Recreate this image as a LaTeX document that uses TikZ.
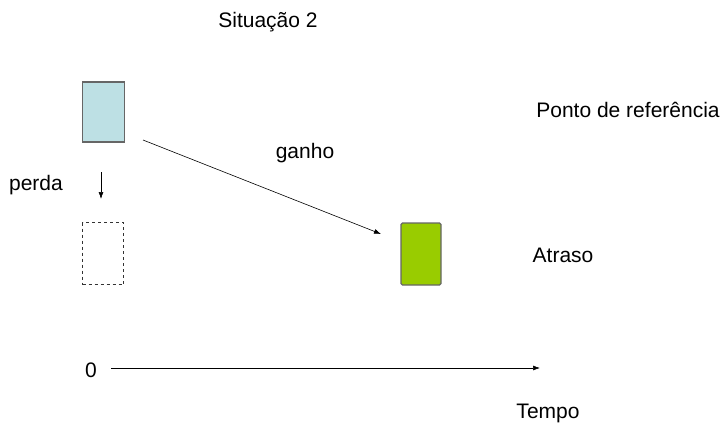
\documentclass[tikz,border=0pt]{standalone}
\usepackage{fontspec}
\usetikzlibrary{arrows.meta}
\setmainfont{Liberation Sans}
\begin{document}
\begin{tikzpicture}[x=1pt,y=-1pt,
  lbl/.style={inner sep=0pt,font=\fontsize{21}{24}\selectfont},
  card/.style={draw=black!60,line width=1.2pt,minimum width=42pt,minimum height=60pt,inner sep=0pt},
  conn/.style={-{Latex[length=7pt,width=5pt]},line width=0.6pt,black}]
\useasboundingbox (0,0) rectangle (727,431);
\node[lbl] (title) at (268,22) {Situação 2};
\node[card,fill={rgb,255:red,189;green,224;blue,228}] (blue) at (103.5,112) {};
\node[card,draw=black!80,line width=0.6pt,dashed,minimum width=41pt,minimum height=62pt] (ghost) at (103,253.5) {};
\node[card,fill={rgb,255:red,153;green,204;blue,0},rounded corners=1.5pt,minimum width=40pt,minimum height=62pt] (green) at (421,254) {};
\node[lbl] (ref) at (628,110) {Ponto de referência};
\node[lbl] (atraso) at (563,255) {Atraso};
\node[lbl] (ganho) at (305,153) {ganho};
\node[lbl] (perda) at (36,185) {perda};
\node[lbl] (zero) at (91,370) {0};
\node[lbl] (tempo) at (548,413) {Tempo};
\coordinate (gs) at (143,140);
\coordinate (ge) at (381,234);
\coordinate (ps) at (101,172);
\coordinate (pe) at (101,199);
\coordinate (as) at (111,368);
\coordinate (ae) at (540,368);
\draw[conn] (gs) -- (ge);
\draw[conn] (ps) -- (pe);
\draw[conn] (as) -- (ae);
\end{tikzpicture}
\end{document}
